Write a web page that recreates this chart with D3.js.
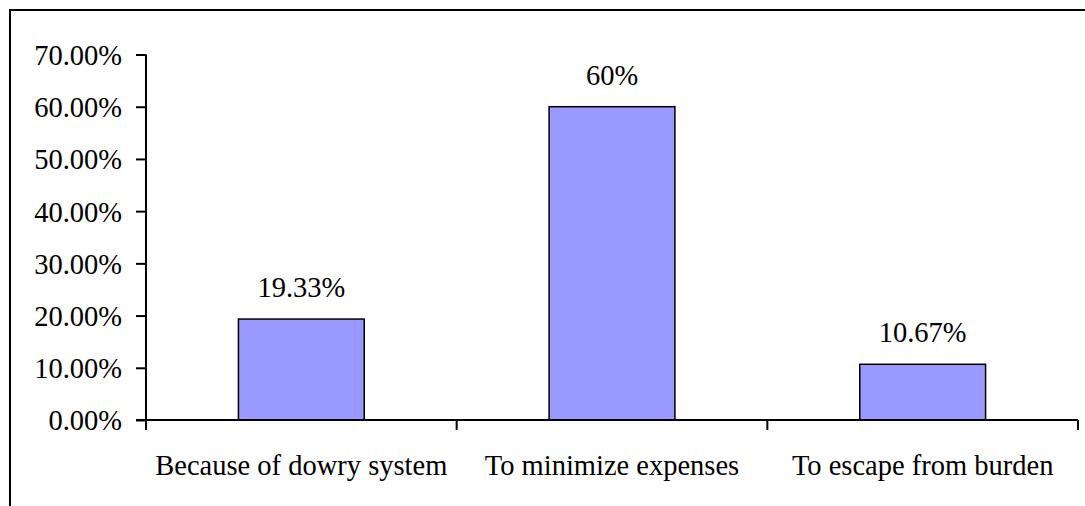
<!DOCTYPE html>
<html><head><meta charset="utf-8">
<script src="https://cdn.jsdelivr.net/npm/d3@7"></script>
<style>body{margin:0;background:#fff}svg{display:block}</style>
</head><body>
<svg id="c" width="1085" height="506"></svg>
<script>
const categories = ["Because of dowry system", "To minimize expenses", "To escape from burden"];
const values = [19.33, 60, 10.67];
const valueLabels = ["19.33%", "60%", "10.67%"];
const yTicks = [0, 10, 20, 30, 40, 50, 60, 70];

const svg = d3.select("#c");
const font = "Liberation Serif";
const fs = "28.5px";

svg.append("rect").attr("x", 10).attr("y", 10).attr("width", 1100).attr("height", 520)
  .attr("fill", "none").attr("stroke", "#000").attr("stroke-width", 2);

const x0 = 146, x1 = 1078, yTop = 54.5, yBot = 420;
const x = d3.scaleBand().domain(categories).range([x0, x1]).padding(0);
const barFrac = 0.405;
const barW = x.bandwidth() * barFrac;
const barX = c => x(c) + (x.bandwidth() - barW) / 2;
const y = d3.scaleLinear().domain([0, 70]).range([yBot, yTop]);

// bars
svg.selectAll("rect.bar").data(values).join("rect").attr("class", "bar")
  .attr("x", (d, i) => barX(categories[i]))
  .attr("width", barW)
  .attr("y", d => y(d))
  .attr("height", d => y(0) - y(d))
  .attr("fill", "#9999FF").attr("stroke", "#000").attr("stroke-width", 1.5);

// value labels
svg.selectAll("text.val").data(values).join("text").attr("class", "val")
  .attr("x", (d, i) => x(categories[i]) + x.bandwidth() / 2)
  .attr("y", d => y(d) - 22)
  .attr("text-anchor", "middle")
  .style("font-family", font).style("font-size", fs).attr("fill", "#000")
  .text((d, i) => valueLabels[i]);

// y axis
const yAxis = d3.axisLeft(y).tickValues(yTicks).tickSize(10).tickPadding(14)
  .tickFormat(d => d.toFixed(2) + "%");
const gy = svg.append("g").attr("transform", `translate(${x0},0)`).call(yAxis);
gy.select(".domain").attr("stroke", "#000").attr("stroke-width", 2).attr("d", `M0,${yTop}V${yBot}`);
gy.selectAll(".tick line").attr("stroke", "#000").attr("stroke-width", 2);
gy.selectAll(".tick text").style("font-family", font).style("font-size", fs).attr("fill", "#000").attr("dy", "0.35em");

// x axis
const gx = svg.append("g").attr("transform", `translate(0,${yBot})`);
gx.append("line").attr("x1", x0 - 10).attr("x2", x1).attr("stroke", "#000").attr("stroke-width", 2);
const boundaries = categories.map(c => x(c) + x.bandwidth());
gx.selectAll("line.tk").data(boundaries).join("line").attr("class", "tk")
  .attr("x1", d => d).attr("x2", d => d).attr("y1", 0).attr("y2", 10)
  .attr("stroke", "#000").attr("stroke-width", 2);
gx.append("line").attr("x1", x0).attr("x2", x0).attr("y1", 0).attr("y2", 10)
  .attr("stroke", "#000").attr("stroke-width", 2);
gx.selectAll("text.cat").data(categories).join("text").attr("class", "cat")
  .attr("x", d => x(d) + x.bandwidth() / 2).attr("y", 55)
  .attr("text-anchor", "middle")
  .style("font-family", font).style("font-size", fs).attr("fill", "#000")
  .text(d => d);
</script>
</body></html>
